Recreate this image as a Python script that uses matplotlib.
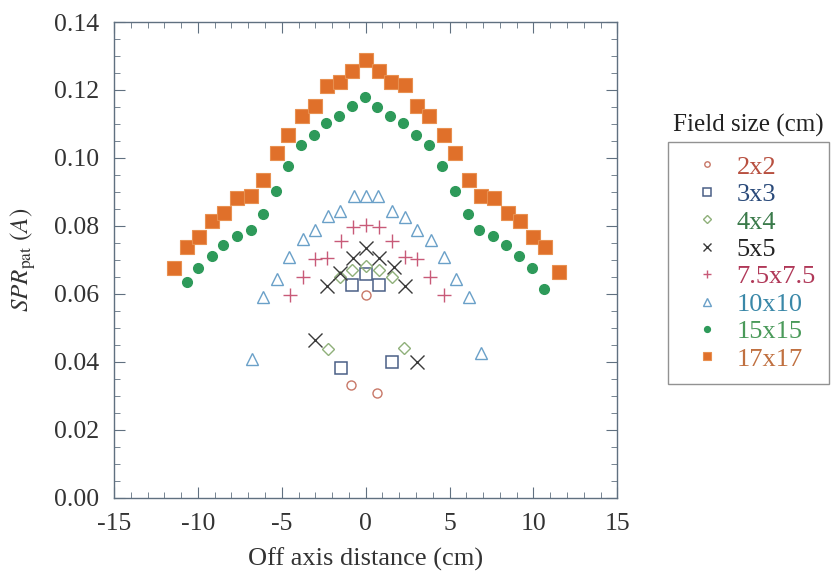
import matplotlib.pyplot as plt
from matplotlib.ticker import MultipleLocator, FormatStrFormatter

plt.rcParams['font.family'] = ['Liberation Serif', 'DejaVu Serif']
plt.rcParams['mathtext.fontset'] = 'stix'
plt.rcParams['axes.unicode_minus'] = False

# Data
x_2 = [-0.86, 0.03, 0.70]
y_2 = [0.0332, 0.0597, 0.0308]

x_3 = [-1.48, -0.82, 0.03, 0.80, 1.56]
y_3 = [0.0381, 0.0626, 0.0659, 0.0626, 0.0401]

x_4 = [-2.22, -1.52, -0.82, 0.03, 0.80, 1.56, 2.30]
y_4 = [0.0438, 0.0651, 0.0671, 0.0682, 0.0671, 0.0651, 0.0440]

x_5 = [-3.01, -2.28, -1.52, -0.76, 0.03, 0.80, 1.66, 2.36, 3.05]
y_5 = [0.0465, 0.0624, 0.0661, 0.0705, 0.0734, 0.0705, 0.0678, 0.0624, 0.0399]

x_75 = [-4.50, -3.74, -3.01, -2.28, -1.48, -0.76, 0.03, 0.80, 1.56, 2.36, 3.05, 3.85, 4.64]
y_75 = [0.0597, 0.0649, 0.0702, 0.0705, 0.0757, 0.0798, 0.0803, 0.0798, 0.0757, 0.0708,
        0.0702, 0.0649, 0.0597]

x_10 = [-6.79, -6.09, -5.26, -4.54, -3.74, -3.01, -2.25, -1.52, -0.69, 0.03, 0.76, 1.56,
        2.36, 3.05, 3.89, 4.64, 5.38, 6.17, 6.87]
y_10 = [0.0409, 0.0590, 0.0644, 0.0708, 0.0761, 0.0788, 0.0829, 0.0845, 0.0888, 0.0888,
        0.0888, 0.0845, 0.0827, 0.0788, 0.0759, 0.0708, 0.0644, 0.0592, 0.0426]

x_15 = [-10.66, -9.97, -9.17, -8.48, -7.68, -6.85, -6.13, -5.35, -4.60, -3.85, -3.07, -2.36,
        -1.58, -0.82, -0.05, 0.70, 1.46, 2.25, 3.01, 3.79, 4.56, 5.30, 6.09, 6.77, 7.58,
        8.38, 9.11, 9.91, 10.64]
y_15 = [0.0634, 0.0676, 0.0712, 0.0744, 0.0771, 0.0788, 0.0835, 0.0904, 0.0976, 0.1037,
        0.1069, 0.1104, 0.1124, 0.1152, 0.1178, 0.1151, 0.1124, 0.1104, 0.1069, 0.1037,
        0.0976, 0.0904, 0.0835, 0.0788, 0.0771, 0.0744, 0.0712, 0.0676, 0.0615]

x_17 = [-11.42, -10.63, -9.93, -9.13, -8.44, -7.64, -6.85, -6.09, -5.30, -4.60, -3.80,
        -3.01, -2.31, -1.52, -0.79, 0.0, 0.80, 1.52, 2.32, 3.05, 3.80, 4.64, 5.34, 6.13,
        6.87, 7.62, 8.46, 9.17, 9.97, 10.70, 11.50]
y_17 = [0.0676, 0.0739, 0.0767, 0.0815, 0.0839, 0.0883, 0.0889, 0.0935, 0.1014, 0.1067,
        0.1124, 0.1154, 0.1213, 0.1223, 0.1257, 0.1288, 0.1257, 0.1223, 0.1215, 0.1154,
        0.1124, 0.1067, 0.1014, 0.0935, 0.0889, 0.0883, 0.0839, 0.0815, 0.0767, 0.0739,
        0.0664]

fig = plt.figure(figsize=(8.32, 5.79), dpi=100)
ax = fig.add_axes([0.137, 0.140, 0.605, 0.822])

# open markers
ax.plot(x_2, y_2, 'o', ms=6.5, mfc='none', mec='#c87868', mew=1.0, label='2x2')
ax.plot(x_3, y_3, 's', ms=9, mfc='none', mec='#4a5f86', mew=1.1, label='3x3')
ax.plot(x_4, y_4, 'D', ms=6.5, mfc='none', mec='#8fb07a', mew=1.0, label='4x4')
ax.plot(x_5, y_5, 'x', ms=9.5, mec='#3a3a3a', mew=1.0, label='5x5')
ax.plot(x_75, y_75, '+', ms=10, mec='#c85a78', mew=1.0, label='7.5x7.5')
ax.plot(x_10, y_10, '^', ms=8.5, mfc='none', mec='#6aa0c8', mew=1.0, label='10x10')
ax.plot(x_15, y_15, 'o', ms=7, mfc='#2e9a5a', mec='#2e9a5a', label='15x15')
ax.plot(x_17, y_17, 's', ms=9.5, mfc='#e0702a', mec='#e89050', mew=0.8, label='17x17')

ax.set_xlim(-15, 15)
ax.set_ylim(0, 0.14)
ax.xaxis.set_major_locator(MultipleLocator(5))
ax.xaxis.set_minor_locator(MultipleLocator(1))
ax.yaxis.set_major_locator(MultipleLocator(0.02))
ax.yaxis.set_minor_locator(MultipleLocator(0.005))
ax.yaxis.set_major_formatter(FormatStrFormatter('%.2f'))

spine_col = '#607080'
for s in ax.spines.values():
    s.set_color(spine_col)
    s.set_linewidth(1.0)
ax.tick_params(which='both', direction='in', top=True, right=True, color=spine_col,
               labelsize=18.5, labelcolor='#333333')
ax.tick_params(which='major', length=8, pad=11)
ax.tick_params(which='minor', length=4)

ax.set_xlabel('Off axis distance (cm)', fontsize=19, color='#333333')
ax.xaxis.set_label_coords(0.5, -0.105)
ax.set_ylabel(r'$SPR_{\mathrm{pat}}\ (A)$', fontsize=18, color='#333333')
ax.yaxis.set_label_coords(-0.151, 0.5)

# legend with title outside the frame
text_colors = ['#b85040', '#2a4a7a', '#3a7a4a', '#222222', '#b03858', '#3a88a8',
               '#4a9a5a', '#c07040']
leg = fig.legend(loc='upper left', bbox_to_anchor=(0.803, 0.7547), frameon=True,
                 fontsize=19, markerscale=0.6, handlelength=1.95, handletextpad=0.15,
                 labelspacing=0.15, borderpad=0.5, fancybox=False, borderaxespad=0)
leg.get_frame().set_edgecolor('#777777')
leg.get_frame().set_linewidth(1.0)
for t, c in zip(leg.get_texts(), text_colors):
    t.set_color(c)
fig.text(0.8996, 0.784, 'Field size (cm)', fontsize=18, color='#222222', ha='center',
         va='center')

plt.savefig('out.png', dpi=100)
